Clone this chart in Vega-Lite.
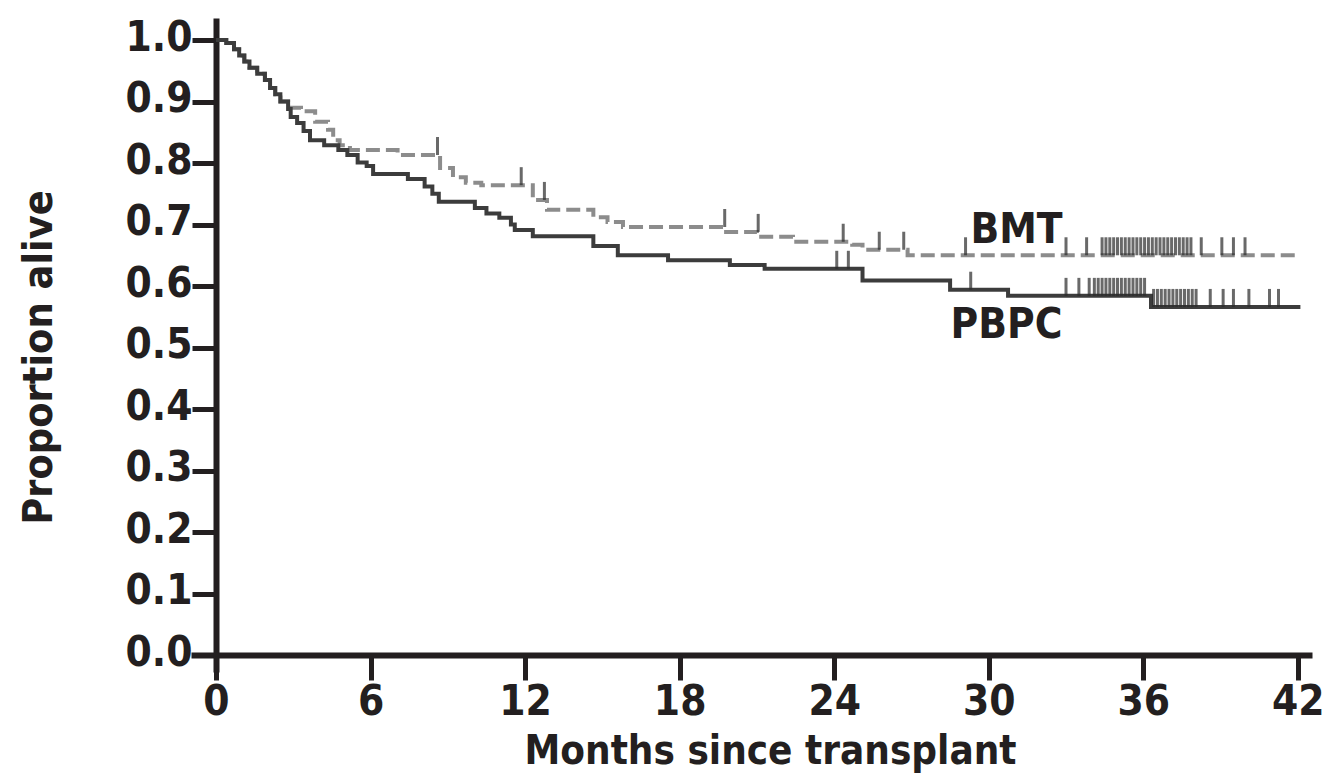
{
  "$schema": "https://vega.github.io/schema/vega-lite/v6.json",
  "width": 1121,
  "height": 654,
  "autosize": {"type": "none"},
  "padding": {"left": 191, "top": 18, "right": 14, "bottom": 104},
  "background": "white",
  "config": {"view": {"stroke": null}},
  "datasets": {
    "km": [
      {"group": "BMT", "month": 0, "surv": 1.0},
      {"group": "BMT", "month": 0.4, "surv": 0.995},
      {"group": "BMT", "month": 0.7, "surv": 0.985},
      {"group": "BMT", "month": 0.9, "surv": 0.975},
      {"group": "BMT", "month": 1.1, "surv": 0.965},
      {"group": "BMT", "month": 1.3, "surv": 0.955},
      {"group": "BMT", "month": 1.6, "surv": 0.945},
      {"group": "BMT", "month": 1.9, "surv": 0.935},
      {"group": "BMT", "month": 2.1, "surv": 0.922},
      {"group": "BMT", "month": 2.3, "surv": 0.912},
      {"group": "BMT", "month": 2.5, "surv": 0.9},
      {"group": "BMT", "month": 2.8, "surv": 0.89},
      {"group": "BMT", "month": 3.3, "surv": 0.884},
      {"group": "BMT", "month": 3.85, "surv": 0.867},
      {"group": "BMT", "month": 4.35, "surv": 0.854},
      {"group": "BMT", "month": 4.55, "surv": 0.837},
      {"group": "BMT", "month": 4.8, "surv": 0.829},
      {"group": "BMT", "month": 5.2, "surv": 0.821},
      {"group": "BMT", "month": 7.05, "surv": 0.813},
      {"group": "BMT", "month": 8.7, "surv": 0.792},
      {"group": "BMT", "month": 9.2, "surv": 0.777},
      {"group": "BMT", "month": 9.7, "surv": 0.768},
      {"group": "BMT", "month": 10.3, "surv": 0.764},
      {"group": "BMT", "month": 12.3, "surv": 0.74},
      {"group": "BMT", "month": 12.85, "surv": 0.724},
      {"group": "BMT", "month": 14.65, "surv": 0.712},
      {"group": "BMT", "month": 15.2, "surv": 0.704},
      {"group": "BMT", "month": 15.8, "surv": 0.696},
      {"group": "BMT", "month": 19.7, "surv": 0.688},
      {"group": "BMT", "month": 21.0, "surv": 0.68},
      {"group": "BMT", "month": 22.4, "surv": 0.672},
      {"group": "BMT", "month": 24.7, "surv": 0.667},
      {"group": "BMT", "month": 25.1, "surv": 0.659},
      {"group": "BMT", "month": 26.85, "surv": 0.65},
      {"group": "BMT", "month": 42.1, "surv": 0.65},
      {"group": "PBPC", "month": 0, "surv": 1.0},
      {"group": "PBPC", "month": 0.4, "surv": 0.995},
      {"group": "PBPC", "month": 0.7, "surv": 0.985},
      {"group": "PBPC", "month": 0.9, "surv": 0.975},
      {"group": "PBPC", "month": 1.1, "surv": 0.965},
      {"group": "PBPC", "month": 1.3, "surv": 0.955},
      {"group": "PBPC", "month": 1.6, "surv": 0.945},
      {"group": "PBPC", "month": 1.9, "surv": 0.935},
      {"group": "PBPC", "month": 2.1, "surv": 0.922},
      {"group": "PBPC", "month": 2.3, "surv": 0.912},
      {"group": "PBPC", "month": 2.5, "surv": 0.9},
      {"group": "PBPC", "month": 2.8, "surv": 0.888},
      {"group": "PBPC", "month": 2.9, "surv": 0.875},
      {"group": "PBPC", "month": 3.15, "surv": 0.865},
      {"group": "PBPC", "month": 3.4, "surv": 0.852},
      {"group": "PBPC", "month": 3.65, "surv": 0.837},
      {"group": "PBPC", "month": 4.2, "surv": 0.829},
      {"group": "PBPC", "month": 4.75, "surv": 0.821},
      {"group": "PBPC", "month": 5.1, "surv": 0.813},
      {"group": "PBPC", "month": 5.5, "surv": 0.801},
      {"group": "PBPC", "month": 5.85, "surv": 0.795},
      {"group": "PBPC", "month": 6.1, "surv": 0.782},
      {"group": "PBPC", "month": 7.45, "surv": 0.774},
      {"group": "PBPC", "month": 8.1, "surv": 0.762},
      {"group": "PBPC", "month": 8.4, "surv": 0.75},
      {"group": "PBPC", "month": 8.65, "surv": 0.737},
      {"group": "PBPC", "month": 10.05, "surv": 0.727},
      {"group": "PBPC", "month": 10.5, "surv": 0.718},
      {"group": "PBPC", "month": 11.0, "surv": 0.711},
      {"group": "PBPC", "month": 11.45, "surv": 0.7},
      {"group": "PBPC", "month": 11.6, "surv": 0.691},
      {"group": "PBPC", "month": 12.3, "surv": 0.681},
      {"group": "PBPC", "month": 14.65, "surv": 0.665},
      {"group": "PBPC", "month": 15.6, "surv": 0.65},
      {"group": "PBPC", "month": 17.55, "surv": 0.642},
      {"group": "PBPC", "month": 19.95, "surv": 0.634},
      {"group": "PBPC", "month": 21.3, "surv": 0.628},
      {"group": "PBPC", "month": 25.1, "surv": 0.609},
      {"group": "PBPC", "month": 28.5, "surv": 0.594},
      {"group": "PBPC", "month": 30.75, "surv": 0.584},
      {"group": "PBPC", "month": 36.3, "surv": 0.566},
      {"group": "PBPC", "month": 42.1, "surv": 0.566}
    ],
    "cens": [
      {"group": "BMT", "month": 8.6, "surv": 0.813},
      {"group": "BMT", "month": 11.85, "surv": 0.764},
      {"group": "BMT", "month": 12.75, "surv": 0.74},
      {"group": "BMT", "month": 19.75, "surv": 0.696},
      {"group": "BMT", "month": 21.05, "surv": 0.688},
      {"group": "BMT", "month": 24.35, "surv": 0.672},
      {"group": "BMT", "month": 25.75, "surv": 0.659},
      {"group": "BMT", "month": 26.7, "surv": 0.659},
      {"group": "BMT", "month": 29.1, "surv": 0.65},
      {"group": "BMT", "month": 33.0, "surv": 0.65},
      {"group": "BMT", "month": 33.8, "surv": 0.65},
      {"group": "BMT", "month": 34.4, "surv": 0.65},
      {"group": "BMT", "month": 34.55, "surv": 0.65},
      {"group": "BMT", "month": 34.7, "surv": 0.65},
      {"group": "BMT", "month": 34.85, "surv": 0.65},
      {"group": "BMT", "month": 35.0, "surv": 0.65},
      {"group": "BMT", "month": 35.15, "surv": 0.65},
      {"group": "BMT", "month": 35.3, "surv": 0.65},
      {"group": "BMT", "month": 35.45, "surv": 0.65},
      {"group": "BMT", "month": 35.6, "surv": 0.65},
      {"group": "BMT", "month": 35.75, "surv": 0.65},
      {"group": "BMT", "month": 35.9, "surv": 0.65},
      {"group": "BMT", "month": 36.05, "surv": 0.65},
      {"group": "BMT", "month": 36.2, "surv": 0.65},
      {"group": "BMT", "month": 36.35, "surv": 0.65},
      {"group": "BMT", "month": 36.5, "surv": 0.65},
      {"group": "BMT", "month": 36.65, "surv": 0.65},
      {"group": "BMT", "month": 36.8, "surv": 0.65},
      {"group": "BMT", "month": 36.95, "surv": 0.65},
      {"group": "BMT", "month": 37.1, "surv": 0.65},
      {"group": "BMT", "month": 37.25, "surv": 0.65},
      {"group": "BMT", "month": 37.4, "surv": 0.65},
      {"group": "BMT", "month": 37.55, "surv": 0.65},
      {"group": "BMT", "month": 37.7, "surv": 0.65},
      {"group": "BMT", "month": 37.85, "surv": 0.65},
      {"group": "BMT", "month": 38.25, "surv": 0.65},
      {"group": "BMT", "month": 39.05, "surv": 0.65},
      {"group": "BMT", "month": 39.5, "surv": 0.65},
      {"group": "BMT", "month": 39.95, "surv": 0.65},
      {"group": "PBPC", "month": 24.1, "surv": 0.628},
      {"group": "PBPC", "month": 24.55, "surv": 0.628},
      {"group": "PBPC", "month": 29.3, "surv": 0.594},
      {"group": "PBPC", "month": 33.0, "surv": 0.584},
      {"group": "PBPC", "month": 33.5, "surv": 0.584},
      {"group": "PBPC", "month": 33.9, "surv": 0.584},
      {"group": "PBPC", "month": 34.1, "surv": 0.584},
      {"group": "PBPC", "month": 34.25, "surv": 0.584},
      {"group": "PBPC", "month": 34.4, "surv": 0.584},
      {"group": "PBPC", "month": 34.55, "surv": 0.584},
      {"group": "PBPC", "month": 34.7, "surv": 0.584},
      {"group": "PBPC", "month": 34.85, "surv": 0.584},
      {"group": "PBPC", "month": 35.0, "surv": 0.584},
      {"group": "PBPC", "month": 35.15, "surv": 0.584},
      {"group": "PBPC", "month": 35.3, "surv": 0.584},
      {"group": "PBPC", "month": 35.45, "surv": 0.584},
      {"group": "PBPC", "month": 35.6, "surv": 0.584},
      {"group": "PBPC", "month": 35.75, "surv": 0.584},
      {"group": "PBPC", "month": 35.9, "surv": 0.584},
      {"group": "PBPC", "month": 36.05, "surv": 0.584},
      {"group": "PBPC", "month": 36.4, "surv": 0.566},
      {"group": "PBPC", "month": 36.55, "surv": 0.566},
      {"group": "PBPC", "month": 36.7, "surv": 0.566},
      {"group": "PBPC", "month": 36.85, "surv": 0.566},
      {"group": "PBPC", "month": 37.0, "surv": 0.566},
      {"group": "PBPC", "month": 37.15, "surv": 0.566},
      {"group": "PBPC", "month": 37.3, "surv": 0.566},
      {"group": "PBPC", "month": 37.45, "surv": 0.566},
      {"group": "PBPC", "month": 37.6, "surv": 0.566},
      {"group": "PBPC", "month": 37.75, "surv": 0.566},
      {"group": "PBPC", "month": 37.9, "surv": 0.566},
      {"group": "PBPC", "month": 38.05, "surv": 0.566},
      {"group": "PBPC", "month": 38.6, "surv": 0.566},
      {"group": "PBPC", "month": 39.1, "surv": 0.566},
      {"group": "PBPC", "month": 39.5, "surv": 0.566},
      {"group": "PBPC", "month": 40.1, "surv": 0.566},
      {"group": "PBPC", "month": 40.9, "surv": 0.566},
      {"group": "PBPC", "month": 41.25, "surv": 0.566}
    ],
    "labels": [
      {"label": "BMT", "month": 31.08, "surv": 0.67},
      {"label": "PBPC", "month": 30.69, "surv": 0.5154}
    ]
  },
  "encoding": {
    "x": {
      "field": "month",
      "type": "quantitative",
      "scale": {"domain": [-0.97, 42.55], "nice": false, "zero": false},
      "axis": {
        "values": [0, 6, 12, 18, 24, 30, 36, 42],
        "offset": -17,
        "grid": false,
        "domainColor": "#231f20",
        "domainWidth": 6,
        "tickColor": "#231f20",
        "tickWidth": 5,
        "tickSize": 25,
        "labelFont": "DejaVu Sans Condensed",
        "labelFontWeight": "bold",
        "labelFontSize": 42,
        "labelColor": "#231f20",
        "labelPadding": 1,
        "labelFlush": false,
        "labelOverlap": false,
        "title": "Months since transplant",
        "titleFont": "DejaVu Sans Condensed",
        "titleFontSize": 40,
        "titleFontWeight": "bold",
        "titleColor": "#231f20",
        "titlePadding": 9,
        "titleX": 579
      }
    },
    "y": {
      "field": "surv",
      "type": "quantitative",
      "scale": {"domain": [-0.0276, 1.0358], "nice": false, "zero": false},
      "axis": {
        "values": [0, 0.1, 0.2, 0.3, 0.4, 0.5, 0.6, 0.7, 0.8, 0.9, 1.0],
        "format": ".1f",
        "offset": -25,
        "grid": false,
        "domainColor": "#231f20",
        "domainWidth": 6,
        "tickColor": "#231f20",
        "tickWidth": 5,
        "tickSize": 24,
        "labelFont": "DejaVu Sans Condensed",
        "labelFontWeight": "bold",
        "labelFontSize": 42,
        "labelColor": "#231f20",
        "labelPadding": 0,
        "labelOffset": -3,
        "labelFlush": false,
        "labelOverlap": false,
        "title": "Proportion alive",
        "titleFont": "DejaVu Sans Condensed",
        "titleFontSize": 41,
        "titleFontWeight": "bold",
        "titleColor": "#231f20",
        "titleX": -156,
        "titleY": 339
      }
    }
  },
  "layer": [
    {
      "data": {"name": "km"},
      "mark": {"type": "line", "interpolate": "step-after", "strokeWidth": 4},
      "encoding": {
        "color": {"field": "group", "type": "nominal", "scale": {"domain": ["BMT", "PBPC"], "range": ["#8c8c8c", "#3c3c3c"]}, "legend": null},
        "strokeDash": {"field": "group", "type": "nominal", "scale": {"domain": ["BMT", "PBPC"], "range": [[14, 6], [1, 0]]}, "legend": null}
      }
    },
    {
      "data": {"name": "cens"},
      "mark": {"type": "tick", "orient": "vertical", "size": 18, "thickness": 3, "yOffset": -9, "color": "#2a2a2a"}
    },
    {
      "data": {"name": "labels"},
      "mark": {"type": "text", "font": "DejaVu Sans Condensed", "fontWeight": "bold", "fontSize": 42, "align": "center", "baseline": "alphabetic", "color": "#231f20"},
      "encoding": {"text": {"field": "label", "type": "nominal"}}
    }
  ]
}
